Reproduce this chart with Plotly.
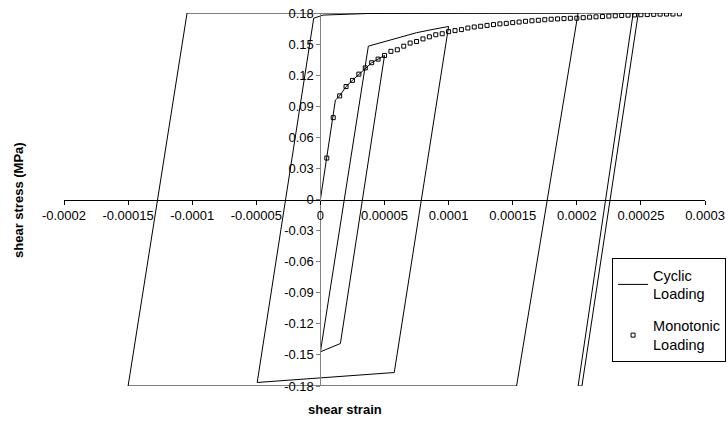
import plotly.graph_objects as go

# Cyclic loading path (shear strain, shear stress MPa)
cyclic_strain = [0, 1.17e-5, 1.5e-5, 2.0e-5, 2.5e-5, 3.0e-5, 3.5e-5, 4.0e-5, 4.5e-5, 5.0e-5,
                 1.56e-5, 0.0,
                 3.74e-5, 5.0e-5, 6.2e-5, 7.5e-5, 8.7e-5, 1.0e-4,
                 5.76e-5, 0.0, -4.93e-5,
                 -5.2e-6, 2.3e-6, 3.7e-5, 2.01e-4,
                 1.53e-4, -1.5e-4,
                 -1.04e-4, 2.48e-4,
                 2.04e-4, 2.01e-4,
                 2.44e-4, 2.75e-4]
cyclic_stress = [0, 0.096, 0.100, 0.109, 0.115, 0.121, 0.127, 0.132, 0.1355, 0.139,
                 -0.139, -0.147,
                 0.148, 0.1525, 0.157, 0.161, 0.164, 0.167,
                 -0.167, -0.1718, -0.1766,
                 0.175, 0.178, 0.1795, 0.180,
                 -0.180, -0.180,
                 0.180, 0.180,
                 -0.180, -0.180,
                 0.180, 0.180]

# Monotonic loading (markers)
mono_strain = [k * 5e-6 for k in range(1, 57)]
mono_stress = [0.040, 0.079, 0.100, 0.109, 0.115, 0.121, 0.127, 0.132, 0.1355, 0.139,
               0.143, 0.1445, 0.148, 0.151, 0.1525, 0.155, 0.157, 0.159, 0.160, 0.162,
               0.163, 0.164, 0.1655, 0.1665, 0.1672, 0.168, 0.1688, 0.1695, 0.170, 0.1707,
               0.1713, 0.172, 0.1725, 0.173, 0.1735, 0.174, 0.1743, 0.1746, 0.1749, 0.175,
               0.1755, 0.176, 0.1763, 0.1766, 0.177, 0.1773, 0.1776, 0.1779, 0.1781, 0.1783,
               0.1785, 0.1787, 0.1789, 0.179, 0.179, 0.1792]

x_ticks = [-0.0002, -0.00015, -0.0001, -0.00005, 0, 0.00005, 0.0001, 0.00015, 0.0002, 0.00025, 0.0003]
x_ticktext = ["-0.0002", "-0.00015", "-0.0001", "-0.00005", "0", "0.00005", "0.0001", "0.00015", "0.0002", "0.00025", "0.0003"]
y_ticks = [0.18, 0.15, 0.12, 0.09, 0.06, 0.03, 0, -0.03, -0.06, -0.09, -0.12, -0.15, -0.18]
y_ticktext = ["0.18", "0.15", "0.12", "0.09", "0.06", "0.03", "0", "-0.03", "-0.06", "-0.09", "-0.12", "-0.15", "-0.18"]

FONT = "Liberation Sans, Arial, sans-serif"

fig = go.Figure()
fig.add_trace(go.Scatter(x=cyclic_strain, y=cyclic_stress, mode="lines",
                         line=dict(color="black", width=1),
                         name="Cyclic<br>Loading", legendgroup="c"))
fig.add_trace(go.Scatter(x=mono_strain, y=mono_stress, mode="markers",
                         marker=dict(symbol="square-open", size=4, color="black",
                                     line=dict(width=1, color="black")),
                         name="Monotonic<br>Loading", legendgroup="m"))

fig.update_layout(
    width=728, height=423, autosize=False,
    margin=dict(l=63.5, r=23, t=13, b=37, autoexpand=False),
    paper_bgcolor="white", plot_bgcolor="white",
    font=dict(family=FONT, size=13, color="black"),
    showlegend=True,
    legend=dict(x=0.855, y=0.343, xanchor="left", yanchor="top",
                bordercolor="black", borderwidth=1, bgcolor="white",
                font=dict(size=14.5, color="black"), tracegroupgap=10),
    xaxis=dict(range=[-0.0002, 0.0003], anchor="free", position=0.5,
               automargin=False,
               showline=True, linecolor="black", linewidth=1,
               ticks="outside", ticklen=4, tickcolor="black",
               tickvals=x_ticks, ticktext=x_ticktext,
               showgrid=False, zeroline=False, tickfont=dict(size=13)),
    yaxis=dict(range=[-0.18, 0.18], anchor="free", position=0.4,
               automargin=False,
               showline=True, linecolor="#808080", linewidth=1,
               ticks="outside", ticklen=4, tickcolor="#808080",
               tickvals=y_ticks, ticktext=y_ticktext,
               showgrid=False, zeroline=False, tickfont=dict(size=13)),
    annotations=[
        dict(text="<b>shear stress (MPa)</b>", xref="paper", yref="paper",
             x=-0.071, y=0.5, textangle=-90, showarrow=False,
             xanchor="center", yanchor="middle", font=dict(size=13, color="black")),
        dict(text="<b>shear strain</b>", xref="paper", yref="paper",
             x=0.439, y=-0.064, showarrow=False,
             xanchor="center", yanchor="middle", font=dict(size=13, color="black")),
    ],
)

fig.write_html("out.html",
               config={"responsive": False, "displayModeBar": False},
               post_script="document.documentElement.style.overflow='hidden';"
                           "document.body.style.margin='0';document.body.style.padding='0';"
                           "document.body.style.overflow='hidden';")
